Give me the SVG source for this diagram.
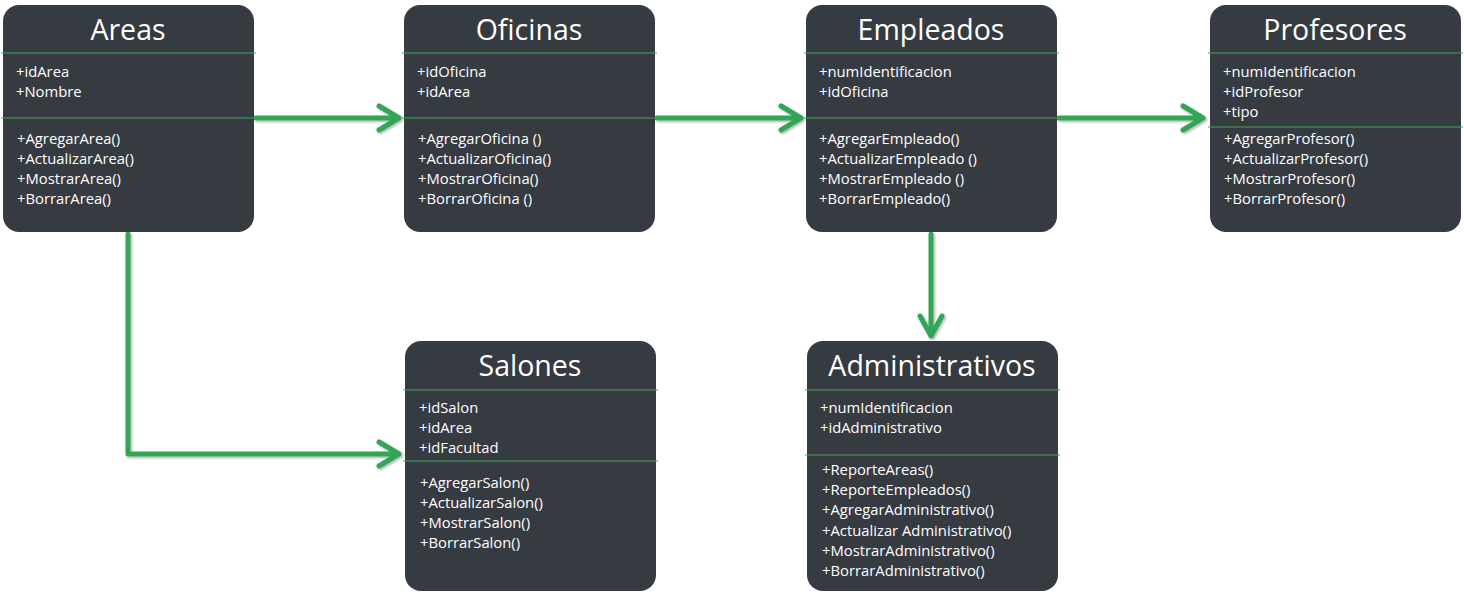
<svg xmlns="http://www.w3.org/2000/svg" width="1464" height="595" viewBox="0 0 1464 595">
<style>
.box{fill:#363a41}
.sep{stroke:#3da85a;stroke-width:1}
.title{font-family:"Open Sans","Noto Sans",sans-serif;font-size:28.5px;fill:#ffffff;text-anchor:middle}
.t{font-family:"Open Sans","Noto Sans",sans-serif;font-size:14.8px;fill:#ffffff}
.conn{fill:none;stroke:#33a656;stroke-width:5;stroke-linecap:round;stroke-linejoin:round}
</style>
<defs>
<filter id="sh" x="-10%" y="-10%" width="130%" height="130%">
<feDropShadow dx="1.5" dy="1.5" stdDeviation="1.2" flood-color="#000" flood-opacity="0.3"/>
</filter>
</defs>
<rect width="1464" height="595" fill="#ffffff"/>
<g id="connectors" filter="url(#sh)">
<path class="conn" d="M256 118 H399 M379 106 L399 118 L379 130"/>
<path class="conn" d="M657 118 H801 M781 106 L801 118 L781 130"/>
<path class="conn" d="M1059 118 H1203 M1183 106 L1203 118 L1183 130"/>
<path class="conn" d="M931 234 V336 M920 316 L931 336 L942 316"/>
<path class="conn" d="M128 234 V454 H399 M379 442 L399 454 L379 466"/>
</g>
<g id="areas">
<rect class="box" x="3" y="5" width="251" height="227" rx="16"/>
<line class="sep" x1="1" y1="53" x2="256" y2="53"/>
<line class="sep" x1="1" y1="118" x2="256" y2="118"/>
<text class="title" x="128" y="40">Areas</text>
<text class="t" x="16" y="77">+idArea</text>
<text class="t" x="16" y="97">+Nombre</text>
<text class="t" x="17" y="144">+AgregarArea()</text>
<text class="t" x="17" y="164">+ActualizarArea()</text>
<text class="t" x="17" y="184">+MostrarArea()</text>
<text class="t" x="17" y="204">+BorrarArea()</text>
</g>
<g id="oficinas">
<rect class="box" x="404" y="5" width="251" height="227" rx="16"/>
<line class="sep" x1="402" y1="53" x2="657" y2="53"/>
<line class="sep" x1="402" y1="118" x2="657" y2="118"/>
<text class="title" x="529" y="40">Oficinas</text>
<text class="t" x="417" y="77">+idOficina</text>
<text class="t" x="417" y="97">+idArea</text>
<text class="t" x="418" y="144">+AgregarOficina ()</text>
<text class="t" x="418" y="164">+ActualizarOficina()</text>
<text class="t" x="418" y="184">+MostrarOficina()</text>
<text class="t" x="418" y="204">+BorrarOficina ()</text>
</g>
<g id="empleados">
<rect class="box" x="806" y="5" width="251" height="227" rx="16"/>
<line class="sep" x1="804" y1="53" x2="1059" y2="53"/>
<line class="sep" x1="804" y1="118" x2="1059" y2="118"/>
<text class="title" x="931" y="40">Empleados</text>
<text class="t" x="819" y="77">+numIdentificacion</text>
<text class="t" x="819" y="97">+idOficina</text>
<text class="t" x="819" y="144">+AgregarEmpleado()</text>
<text class="t" x="819" y="164">+ActualizarEmpleado ()</text>
<text class="t" x="819" y="184">+MostrarEmpleado ()</text>
<text class="t" x="819" y="204">+BorrarEmpleado()</text>
</g>
<g id="profesores">
<rect class="box" x="1210" y="5" width="251" height="227" rx="16"/>
<line class="sep" x1="1208" y1="53" x2="1463" y2="53"/>
<line class="sep" x1="1208" y1="127" x2="1463" y2="127"/>
<text class="title" x="1335" y="40">Profesores</text>
<text class="t" x="1223" y="77">+numIdentificacion</text>
<text class="t" x="1223" y="97">+idProfesor</text>
<text class="t" x="1223" y="117">+tipo</text>
<text class="t" x="1224" y="144">+AgregarProfesor()</text>
<text class="t" x="1224" y="164">+ActualizarProfesor()</text>
<text class="t" x="1224" y="184">+MostrarProfesor()</text>
<text class="t" x="1224" y="204">+BorrarProfesor()</text>
</g>
<g id="salones">
<rect class="box" x="405" y="341" width="251" height="250" rx="16"/>
<line class="sep" x1="403" y1="390" x2="658" y2="390"/>
<line class="sep" x1="403" y1="461" x2="658" y2="461"/>
<text class="title" x="530" y="376">Salones</text>
<text class="t" x="419" y="413">+idSalon</text>
<text class="t" x="419" y="433">+idArea</text>
<text class="t" x="419" y="453">+idFacultad</text>
<text class="t" x="420" y="488">+AgregarSalon()</text>
<text class="t" x="420" y="508">+ActualizarSalon()</text>
<text class="t" x="420" y="528">+MostrarSalon()</text>
<text class="t" x="420" y="548">+BorrarSalon()</text>
</g>
<g id="administrativos">
<rect class="box" x="807" y="341" width="251" height="250" rx="16"/>
<line class="sep" x1="805" y1="390" x2="1060" y2="390"/>
<line class="sep" x1="805" y1="455" x2="1060" y2="455"/>
<text class="title" x="932" y="376">Administrativos</text>
<text class="t" x="820" y="413">+numIdentificacion</text>
<text class="t" x="820" y="433">+idAdministrativo</text>
<text class="t" x="822" y="475">+ReporteAreas()</text>
<text class="t" x="822" y="495">+ReporteEmpleados()</text>
<text class="t" x="822" y="515">+AgregarAdministrativo()</text>
<text class="t" x="822" y="536">+Actualizar Administrativo()</text>
<text class="t" x="822" y="556">+MostrarAdministrativo()</text>
<text class="t" x="822" y="576">+BorrarAdministrativo()</text>
</g>
</svg>
